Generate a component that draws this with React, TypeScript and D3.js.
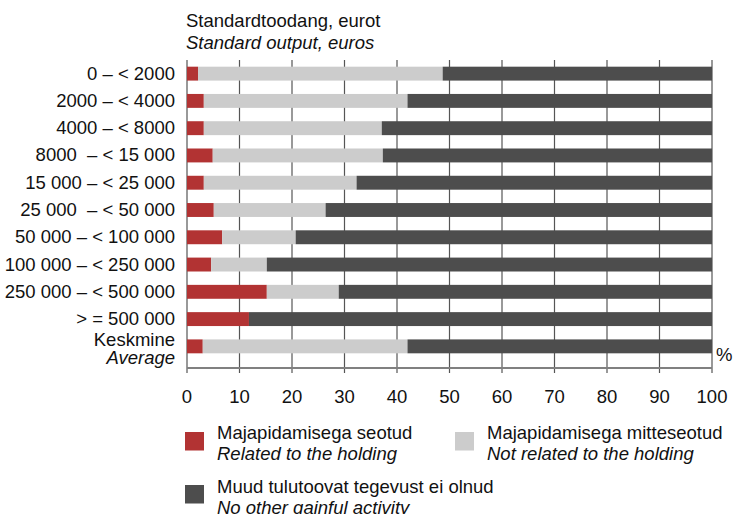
import React from "react";
import * as d3 from "d3";

const categories = [
  "0 – < 2000",
  "2000 – < 4000",
  "4000 – < 8000",
  "8000  – < 15 000",
  "15 000 – < 25 000",
  "25 000  – < 50 000",
  "50 000 – < 100 000",
  "100 000 – < 250 000",
  "250 000 – < 500 000",
  "> = 500 000",
  "Keskmine",
];
const related = [2.1, 3.2, 3.2, 4.9, 3.2, 5.1, 6.7, 4.6, 15.2, 11.8, 3.0];
const notRelated = [46.6, 38.8, 33.9, 32.4, 29.1, 21.3, 14.0, 10.6, 13.7, 0, 39.0];
const noOther = related.map((r, i) => 100 - r - notRelated[i]);
const xTicks = [0, 10, 20, 30, 40, 50, 60, 70, 80, 90, 100];

const seriesKeys = ["related", "notRelated", "noOther"];
const colors = ["#B23333", "#CCCCCC", "#4D4D4D"];
const legendEt = ["Majapidamisega seotud", "Majapidamisega mitteseotud", "Muud tulutoovat tegevust ei olnud"];
const legendEn = ["Related to the holding", "Not related to the holding", "No other gainful activity"];

export default function App() {
  const W = 733, H = 514;
  const x = d3.scaleLinear().domain([0, 100]).range([187, 712]);
  const y = d3.scaleBand<string>().domain(categories).range([60, 360]).paddingInner(0.49).paddingOuter(0.245);
  const rows = categories.map((c, i) => ({ cat: c, related: related[i], notRelated: notRelated[i], noOther: noOther[i] }));
  const stack = d3.stack<any>().keys(seriesKeys)(rows);
  const font = "Liberation Sans, Arial, sans-serif";
  const fs = 18.5;
  const legendPos = [
    { x: 185, y: 432, dy: 6.5 },
    { x: 455, y: 432, dy: 6.5 },
    { x: 185, y: 485, dy: 8 },
  ];
  return (
    <svg width={W} height={H} style={{ position: "absolute", left: 0, top: 0, background: "#fff" }} fontFamily={font}>
      <rect width={W} height={H} fill="#fff" />
      <text x={186} y={26.5} fontSize={fs} fill="#111">Standardtoodang, eurot</text>
      <text x={186} y={49} fontSize={fs} fontStyle="italic" fill="#111">Standard output, euros</text>
      {xTicks.map((t) => (
        <line key={"g" + t} x1={x(t)} x2={x(t)} y1={60} y2={373} stroke="#555" strokeWidth={1.2} />
      ))}
      <line x1={x(0)} x2={x(100)} y1={368} y2={368} stroke="#808080" strokeWidth={2} />
      {stack.map((s, si) => (
        <g key={si} fill={colors[si]}>
          {s.map((d, i) => (
            <rect key={i} x={x(d[0])} y={y(categories[i])!} width={Math.max(0, x(d[1]) - x(d[0]))} height={y.bandwidth()} />
          ))}
        </g>
      ))}
      {categories.map((c) => {
        const cy = y(c)! + y.bandwidth() / 2;
        if (c === "Keskmine") {
          return (
            <g key={c}>
              <text x={175} y={cy - 0.5} textAnchor="end" fontSize={fs} fill="#111">Keskmine</text>
              <text x={175} y={cy + 17.5} textAnchor="end" fontSize={fs} fontStyle="italic" fill="#111">Average</text>
            </g>
          );
        }
        return (
          <text key={c} x={175} y={cy + 6} textAnchor="end" fontSize={fs} fill="#111" style={{ whiteSpace: "pre" }}>{c}</text>
        );
      })}
      <text x={716} y={361} fontSize={fs} fill="#111">%</text>
      {xTicks.map((t) => (
        <text key={"t" + t} x={x(t)} y={403} textAnchor="middle" fontSize={fs} fill="#111">{t}</text>
      ))}
      {legendPos.map((p, i) => (
        <g key={"l" + i}>
          <rect x={p.x} y={p.y} width={19} height={18.5} fill={colors[i]} />
          <text x={p.x + 32} y={p.y + p.dy} fontSize={fs} fill="#111">{legendEt[i]}</text>
          <text x={p.x + 32} y={p.y + p.dy + 21} fontSize={fs} fontStyle="italic" fill="#111">{legendEn[i]}</text>
        </g>
      ))}
    </svg>
  );
}
